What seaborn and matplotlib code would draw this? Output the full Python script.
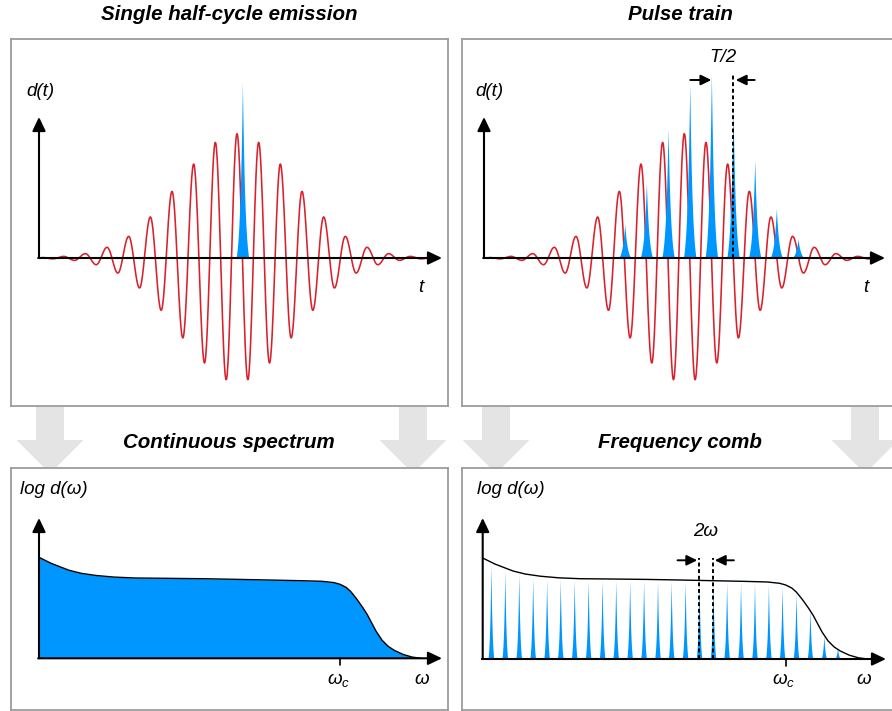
import numpy as np
import pandas as pd
import seaborn as sns
import matplotlib
matplotlib.use("Agg")
import matplotlib.pyplot as plt
from matplotlib.patches import Polygon

# ---------------------------------------------------------------------------
# Data
# ---------------------------------------------------------------------------
# Driving-field extrema, centre outwards, one value per half-cycle
# (sign alternates: even index = positive lobe, odd index = negative lobe)
half_cycle_amp = [1.0, 0.979, 0.93, 0.845, 0.756, 0.643, 0.536, 0.421, 0.33,
                  0.241, 0.174, 0.121, 0.086, 0.054, 0.035, 0.019, 0.013,
                  0.007, 0.004]

# Single attosecond burst (time in half-cycles, height)
single_burst_time = [0.5]
single_burst_height = [1.41]

# Burst train, one burst per half-cycle of the same sign
train_time = [-5.5, -3.5, -1.5, 0.5, 2.5, 4.5, 6.5, 8.5, 10.5]
train_height = [0.274, 0.601, 1.043, 1.405, 1.486, 1.204, 0.788, 0.40, 0.153]

# Harmonic spectrum envelope (omega / omega_c, log amplitude)
spec_omega = [0.0, 0.02, 0.04, 0.07, 0.10, 0.14, 0.19, 0.25, 0.32, 0.42,
              0.54, 0.65, 0.76, 0.87, 0.94, 0.98, 1.0, 1.02, 1.035, 1.055,
              1.075, 1.09, 1.105, 1.12, 1.14, 1.16, 1.18, 1.21, 1.24, 1.27]
spec_level = [1.01, 0.98, 0.95, 0.915, 0.88, 0.85, 0.828, 0.812, 0.803, 0.80,
              0.796, 0.79, 0.783, 0.776, 0.770, 0.757, 0.74, 0.71, 0.67, 0.595,
              0.51, 0.44, 0.355, 0.27, 0.18, 0.12, 0.08, 0.038, 0.012, 0.0]

# Odd-harmonic comb lines (omega / omega_c, height)
comb_omega = [0.027, 0.073, 0.119, 0.165, 0.211, 0.256, 0.302, 0.348, 0.394,
              0.439, 0.485, 0.531, 0.577, 0.622, 0.668, 0.714, 0.760, 0.805,
              0.851, 0.897, 0.943, 0.988, 1.034, 1.080, 1.126, 1.171]
comb_height = [0.95, 0.89, 0.855, 0.815, 0.80, 0.80, 0.795, 0.795, 0.795,
               0.79, 0.79, 0.79, 0.785, 0.785, 0.775, 0.775, 0.775, 0.77,
               0.77, 0.765, 0.752, 0.727, 0.668, 0.502, 0.235, 0.112]

# ---------------------------------------------------------------------------
# Style
# ---------------------------------------------------------------------------
sns.set_theme(style="white")
plt.rcParams["font.family"] = ["Liberation Sans", "DejaVu Sans"]
plt.rcParams["text.color"] = "black"
plt.rcParams["mathtext.fontset"] = "custom"
plt.rcParams["mathtext.it"] = "Liberation Sans:italic"
plt.rcParams["mathtext.rm"] = "Liberation Sans"

RED = "#d9202b"
BLUE = "#0096ff"
FRAME = "#9c9c9c"
GREY_ARROW = "#e4e4e4"
LABEL_SIZE = 13.5

W, H = 892, 711
fig = plt.figure(figsize=(W / 100, H / 100), dpi=100, facecolor="white")


def frac(x, y):
    return x / W, 1 - y / H


def panel(x0, y0, x1, y1, xlim, ylim):
    ax = fig.add_axes([x0 / W, 1 - y1 / H, (x1 - x0) / W, (y1 - y0) / H])
    ax.set_xlim(*xlim)
    ax.set_ylim(*ylim)
    ax.set_xticks([])
    ax.set_yticks([])
    ax.set_facecolor("white")
    for s in ax.spines.values():
        s.set_color(FRAME)
        s.set_linewidth(1.3)
        s.set_visible(True)
    return ax


def axis_arrows(ax, x0, x_tip, y_tip):
    style = dict(arrowstyle="-|>,head_length=0.42,head_width=0.2",
                 mutation_scale=20, lw=1.5, color="black",
                 shrinkA=0, shrinkB=0)
    ax.annotate("", xy=(x_tip, 0), xytext=(x0 - 0.002 * (x_tip - x0), 0),
                arrowprops=style, zorder=6)
    ax.annotate("", xy=(x0, y_tip), xytext=(x0, 0), arrowprops=style, zorder=6)


def burst(center, height, half_base, k=2.4, n=161):
    d = np.linspace(-half_base, half_base, n)
    shape = (np.exp(-k * np.abs(d) / half_base) - np.exp(-k)) / (1 - np.exp(-k))
    return center + d, height * shape


# driving field from its half-cycle extrema, joined by cosine arcs
k_idx = np.arange(-18, 19)
extrema = np.array([half_cycle_amp[abs(i)] * (1 if i % 2 == 0 else -1) for i in k_idx])
seg = np.linspace(0, 1, 30)
blend = (1 - np.cos(np.pi * seg)) / 2
t_parts, y_parts = [], []
for i in range(len(k_idx) - 1):
    t_parts.append(k_idx[i] + seg[:-1])
    y_parts.append(extrema[i] * (1 - blend[:-1]) + extrema[i + 1] * blend[:-1])
t_parts.append([k_idx[-1]])
y_parts.append([extrema[-1]])
field = pd.DataFrame({"t": np.concatenate(t_parts), "d": np.concatenate(y_parts)})

# ---------------------------------------------------------------------------
# Grey block arrows between rows (behind the panels)
# ---------------------------------------------------------------------------
for cx in (50, 413, 496, 865):
    pts = [(cx - 14, 406), (cx + 14, 406), (cx + 14, 440), (cx + 33.5, 440),
           (cx, 473.5), (cx - 33.5, 440), (cx - 14, 440)]
    fig.patches.append(Polygon([frac(x, y) for x, y in pts], closed=True,
                               transform=fig.transFigure, facecolor=GREY_ARROW,
                               edgecolor="none", zorder=-1))

# ---------------------------------------------------------------------------
# Time-domain panels
# ---------------------------------------------------------------------------
PX_T, PX_D = 10.83, 124.3          # pixels per half-cycle / per unit dipole


def time_panel(x0, x1, centre_px, origin_px, tip_px):
    xl = ((x0 - centre_px) / PX_T, (x1 - centre_px) / PX_T)
    yl = ((258 - 406) / PX_D, (258 - 39) / PX_D)
    ax = panel(x0, 39, x1, 406, xl, yl)
    sns.lineplot(data=field, x="t", y="d", ax=ax, color=RED, lw=1.15,
                 sort=False, estimator=None, zorder=2)
    ax.set_xlabel("")
    ax.set_ylabel("")
    axis_arrows(ax, (origin_px - centre_px) / PX_T, (tip_px - centre_px) / PX_T,
                (258 - 117) / PX_D)
    return ax


ax1 = time_panel(11, 448, 237.0, 39, 442)
for tc, h in zip(single_burst_time, single_burst_height):
    bx, by = burst(tc, h, 0.58)
    ax1.fill_between(bx, 0, by, color=BLUE, lw=0, zorder=3)

ax2 = time_panel(462, 899, 684.3, 484, 885)
for tc, h in zip(train_time, train_height):
    bx, by = burst(tc, h, 0.58)
    ax2.fill_between(bx, 0, by, color=BLUE, lw=0, zorder=3)

# T/2 marker between two bursts
t_a, t_b = train_time[4], train_time[5]
y_mark = (258 - 80) / PX_D
ax2.plot([t_b, t_b], [0, (258 - 74) / PX_D], color="black", lw=1.4,
         ls=(0, (2, 1.4)), zorder=7)
small = dict(arrowstyle="-|>,head_length=0.45,head_width=0.22",
             mutation_scale=14, lw=1.4, color="black", shrinkA=0, shrinkB=0)
ax2.annotate("", xy=(t_a, y_mark), xytext=(t_a - 1.95, y_mark), arrowprops=small)
ax2.annotate("", xy=(t_b + 0.25, y_mark), xytext=(t_b + 2.0, y_mark), arrowprops=small)
ax2.text((t_a + t_b) / 2 + 0.1, (258 - 58) / PX_D, "T/2", ha="center", va="center",
         fontsize=LABEL_SIZE, style="italic")

# ---------------------------------------------------------------------------
# Spectral panels
# ---------------------------------------------------------------------------
spectrum = pd.DataFrame({"omega": spec_omega, "level": spec_level})
PX_L = 100.0


def spec_panel(x0, x1, origin_px, scale, axis_py, tip_px):
    xl = ((x0 - origin_px) / scale, (x1 - origin_px) / scale)
    yl = ((axis_py - 710) / PX_L, (axis_py - 468) / PX_L)
    ax = panel(x0, 468, x1, 710, xl, yl)
    sns.lineplot(data=spectrum, x="omega", y="level", ax=ax, color="black",
                 lw=1.0, sort=False, estimator=None, zorder=4)
    ax.set_xlabel("")
    ax.set_ylabel("")
    ax.plot([1, 1], [0, -0.07], color="black", lw=1.2, zorder=5)
    axis_arrows(ax, 0.0, (tip_px - origin_px) / scale, (axis_py - 518) / PX_L)
    return ax


ax3 = spec_panel(11, 448, 39, 301, 658.3, 442)
ax3.fill_between(spec_omega, 0, spec_level, color=BLUE, lw=0, zorder=2)

ax4 = spec_panel(462, 899, 482.7, 303, 659, 886)
for wc, h in zip(comb_omega, comb_height):
    bx, by = burst(wc, h, 0.0095, k=2.2)
    ax4.fill_between(bx, 0, by, color=BLUE, lw=0, zorder=2)

# 2ω spacing marker between neighbouring comb lines
w_a, w_b = comb_omega[15], comb_omega[16]
y_top = (659 - 557.7) / PX_L
y_arr = (659 - 560.3) / PX_L
for wv in (w_a, w_b):
    ax4.plot([wv, wv], [0, y_top], color="black", lw=1.4, ls=(0, (2, 1.4)), zorder=7)
ax4.annotate("", xy=(w_a - 0.006, y_arr), xytext=(w_a - 0.071, y_arr), arrowprops=small)
ax4.annotate("", xy=(w_b + 0.006, y_arr), xytext=(w_b + 0.069, y_arr), arrowprops=small)
ax4.text((w_a + w_b) / 2, (659 - 532) / PX_L, "2ω", ha="center", va="center",
         fontsize=LABEL_SIZE, style="italic")

# ---------------------------------------------------------------------------
# Titles and axis labels
# ---------------------------------------------------------------------------
title_kw = dict(ha="center", va="center", fontsize=14.8, fontweight="bold",
                style="italic")
fig.text(*frac(229, 15), "Single half-cycle emission", **title_kw)
fig.text(*frac(680.5, 15), "Pulse train", **title_kw)
fig.text(*frac(228.5, 442), "Continuous spectrum", **title_kw)
fig.text(*frac(680.3, 442), "Frequency comb", **title_kw)

lab_kw = dict(va="center", fontsize=LABEL_SIZE, style="italic")
fig.text(*frac(26, 91), "d(t)", ha="left", **lab_kw)
fig.text(*frac(475, 91), "d(t)", ha="left", **lab_kw)
fig.text(*frac(421, 287), "t", ha="center", **lab_kw)
fig.text(*frac(865.5, 287), "t", ha="center", **lab_kw)
fig.text(*frac(20, 490), "log d(ω)", ha="left", **lab_kw)
fig.text(*frac(477, 490), "log d(ω)", ha="left", **lab_kw)
fig.text(*frac(339, 680), r"$\omega_c$", ha="center", **lab_kw)
fig.text(*frac(784, 680), r"$\omega_c$", ha="center", **lab_kw)
fig.text(*frac(422, 680), "ω", ha="center", **lab_kw)
fig.text(*frac(864, 680), "ω", ha="center", **lab_kw)

fig.savefig("out.png", dpi=100, facecolor="white")
